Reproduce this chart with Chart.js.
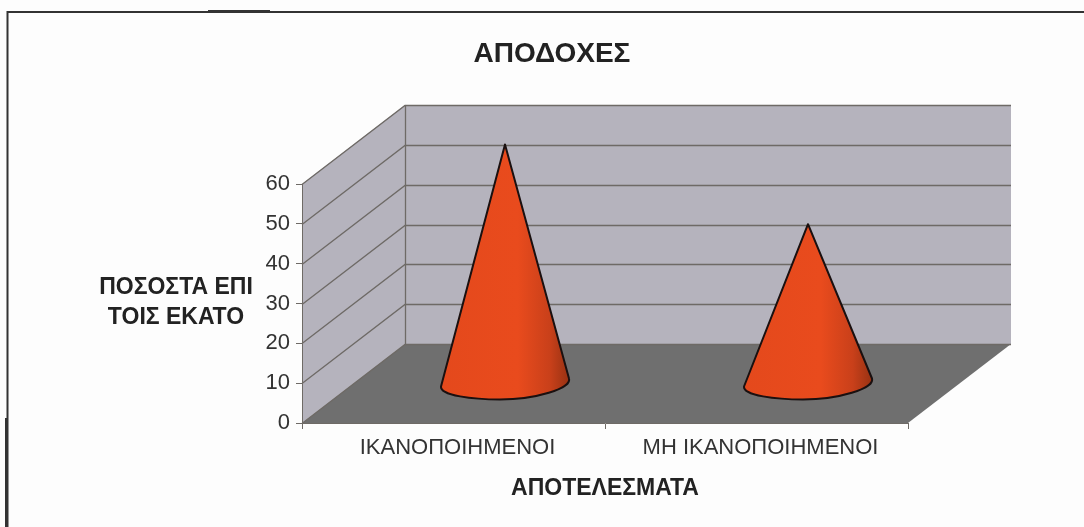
<!DOCTYPE html>
<html><head><meta charset="utf-8">
<style>html,body{margin:0;padding:0;background:#fdfdfd}canvas{display:block}</style>
<script src="https://cdn.jsdelivr.net/npm/chart.js@4"></script>
</head><body>
<div style="width:1084px;height:527px"><canvas id="c"></canvas></div>
<script>
const categories = ['ΙΚΑΝΟΠΟΙΗΜΕΝΟΙ', 'ΜΗ ΙΚΑΝΟΠΟΙΗΜΕΝΟΙ'];
const values = [60, 40];
const yTicks = [0, 10, 20, 30, 40, 50, 60];
const chartTitle = 'ΑΠΟΔΟΧΕΣ';
const xTitle = 'ΑΠΟΤΕΛΕΣΜΑΤΑ';
const yTitleLines = ['ΠΟΣΟΣΤΑ ΕΠΙ', 'ΤΟΙΣ ΕΚΑΤΟ'];

const DX = 103, DY = -79, FONT = '"Liberation Sans", Arial, sans-serif';
const WALL = '#b5b3bd', FLOOR = '#6f6f6f', GRID = '#6e6a66';

const scene = {
  id: 'scene',
  beforeDraw(chart) {
    const { ctx, chartArea: a, scales: { y } } = chart;
    ctx.save();
    // frame
    ctx.strokeStyle = '#333'; ctx.lineWidth = 2;
    ctx.beginPath(); ctx.moveTo(7.5, 527); ctx.lineTo(7.5, 12); ctx.lineTo(1084, 12); ctx.stroke();
    ctx.fillStyle = '#333';
    ctx.fillRect(5, 418, 3, 109);
    ctx.fillRect(208, 10, 62, 2);
    // walls
    const poly = (pts, fill) => {
      ctx.beginPath(); pts.forEach((p, i) => i ? ctx.lineTo(p[0], p[1]) : ctx.moveTo(p[0], p[1]));
      ctx.closePath(); ctx.fillStyle = fill; ctx.fill();
    };
    const L = a.left, R = a.right, T = y.getPixelForValue(60), B = y.getPixelForValue(0);
    poly([[L + DX, T + DY], [R + DX, T + DY], [R + DX, B + DY], [L + DX, B + DY]], WALL);
    poly([[L, T], [L + DX, T + DY], [L + DX, B + DY], [L, B]], WALL);
    poly([[L, B], [L + DX, B + DY], [R + DX, B + DY], [R, B]], FLOOR);
    ctx.strokeStyle = GRID; ctx.lineWidth = 1.3;
    yTicks.forEach(v => {
      const py = Math.round(y.getPixelForValue(v)) + 0.5;
      ctx.beginPath(); ctx.moveTo(L, py); ctx.lineTo(L + DX, py + DY);
      ctx.lineTo(R + DX, py + DY); ctx.stroke();
    });
    ctx.beginPath(); ctx.moveTo(L + DX + .5, T + DY); ctx.lineTo(L + DX + .5, B + DY); ctx.stroke();
    ctx.restore();
  },
  afterDatasetsDraw(chart) {
    const { ctx, scales: { y } } = chart;
    const meta = chart.getDatasetMeta(0);
    ctx.save();
    meta.data.forEach((el, i) => {
      const cx = el.x + DX / 2, baseY = y.getPixelForValue(0) + DY / 2;
      const topY = y.getPixelForValue(values[i]) + DY / 2;
      const r = 64;
      const g = ctx.createLinearGradient(cx - r, 0, cx + r, 0);
      g.addColorStop(0, '#e4491c'); g.addColorStop(0.6, '#e94b1d');
      g.addColorStop(0.85, '#c9401a'); g.addColorStop(1, '#983213');
      ctx.beginPath();
      ctx.moveTo(cx, topY);
      ctx.lineTo(cx - r, baseY + 3);
      ctx.bezierCurveTo(cx - r - 1, baseY + 12, cx - 32, baseY + 16, cx - 5, baseY + 16);
      ctx.bezierCurveTo(cx + 30, baseY + 16, cx + r + 3, baseY + 5, cx + r, baseY - 5);
      ctx.closePath();
      ctx.fillStyle = g; ctx.fill();
      ctx.strokeStyle = '#1a1010'; ctx.lineWidth = 2; ctx.lineJoin = 'round'; ctx.stroke();
    });
    ctx.restore();
  },
  afterDraw(chart) {
    const { ctx } = chart;
    ctx.save();
    ctx.fillStyle = '#222'; ctx.font = 'bold 23px ' + FONT;
    ctx.textAlign = 'center'; ctx.textBaseline = 'middle';
    yTitleLines.forEach((t, i) => ctx.fillText(t, 176, 288 + i * 30));
    ctx.restore();
  }
};

new Chart(document.getElementById('c'), {
  type: 'bar',
  data: { labels: categories, datasets: [{ label: chartTitle, data: values, backgroundColor: 'rgba(0,0,0,0)', borderWidth: 0 }] },
  options: {
    responsive: true, maintainAspectRatio: false, animation: false,
    layout: { padding: { top: 37, left: 196, right: 176, bottom: 0 } },
    plugins: {
      legend: { display: false }, tooltip: { enabled: false },
      title: { display: true, text: chartTitle, color: '#222', font: { family: FONT, size: 28, weight: 'bold', lineHeight: 1.2 }, padding: { top: 0, bottom: 113.4 } }
    },
    scales: {
      x: {
        afterFit: s => { s.height = 104; },
        grid: { drawOnChartArea: false, drawTicks: true, tickLength: 6, color: GRID },
        border: { display: true, color: GRID },
        ticks: { color: '#333', font: { family: FONT, size: 22 }, padding: 6, maxRotation: 0, labelOffset: 4 },
        title: { display: true, text: xTitle, color: '#222', font: { family: FONT, size: 23, weight: 'bold' }, padding: { top: 0, bottom: 25 } }
      },
      y: {
        min: 0, max: 60,
        afterFit: s => { s.width = 106; },
        grid: { drawOnChartArea: false, drawTicks: true, tickLength: 6, color: GRID },
        border: { display: true, color: GRID },
        ticks: { stepSize: 10, color: '#333', font: { family: FONT, size: 22 }, padding: 6 }
      }
    }
  },
  plugins: [scene]
});
</script>
</body></html>
